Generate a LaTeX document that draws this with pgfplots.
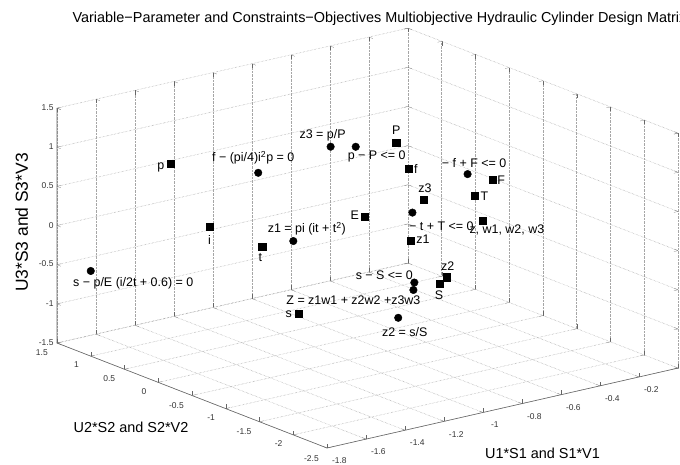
\documentclass[border=0pt]{standalone}
\usepackage{pgfplots}
\pgfplotsset{compat=1.18}
\usepackage{fontspec}
\setmainfont{Liberation Sans}
\usetikzlibrary{calc}
\newcommand{\lbl}{\fontsize{12.5}{14}\selectfont}
\begin{document}
\begin{tikzpicture}
\begin{axis}[
  x={(195bp,44.4bp)}, y={(-67.5bp,26.25bp)}, z={(0bp,78.3bp)},
  xmin=-1.8, xmax=0, ymin=-2.5, ymax=1.5, zmin=-1.5, zmax=1.5,
  xtick={-1.8,-1.6,-1.4,-1.2,-1,-0.8,-0.6,-0.4,-0.2},
  ytick={-2.5,-2,-1.5,-1,-0.5,0,0.5,1,1.5},
  ztick={-1.5,-1,-0.5,0,0.5,1,1.5},
  grid=major,
  grid style={densely dotted, black!35, line width=0.6pt},
  tick label style={font=\fontsize{8.5}{9}\selectfont, text=black!80},
  xticklabel style={xshift=7bp, yshift=-5bp},
  yticklabel style={xshift=-9bp, yshift=-2bp},
  /pgf/number format/assume math mode=true,
  /pgf/number format/fixed,
  axis line style={draw=none},
  tick style={black!60},
  clip=false,
]
\path (axis cs:-1.8,-2.5,-1.5) coordinate (O);
% visible axis lines only (as in the reference)
\draw[black!60, line width=0.6pt] (axis cs:-1.8,1.5,1.5) -- (axis cs:-1.8,1.5,-1.5) -- (axis cs:-1.8,-2.5,-1.5) -- (axis cs:0,-2.5,-1.5);
% variables (squares)
\addplot3[only marks, mark=square*, mark size=3.6pt, black] coordinates {
(-1.470,0.766,0.851) (-1.358,0.518,0.066) (-1.205,0.178,-0.168)
(-1.099,-0.057,-1.006) (-0.908,-0.482,0.274) (-0.817,-0.686,1.238)
(-0.780,-0.767,0.904) (-0.738,-0.861,0.524) (-0.774,-0.780,-0.015)
(-0.537,-1.306,0.805) (-0.590,-1.188,0.592) (-0.567,-1.240,0.280)
(-0.670,-1.010,-0.460) (-0.690,-0.967,-0.541)
};
% constraints/objectives (circles)
\addplot3[only marks, mark=*, mark size=3.8pt, black] coordinates {
(-1.702,1.283,-0.563) (-1.217,0.203,0.778) (-1.007,-0.263,1.148)
(-0.934,-0.424,1.160) (-1.115,-0.022,-0.076) (-0.770,-0.790,0.349)
(-0.610,-1.145,0.869) (-0.764,-0.801,-0.544) (-0.767,-0.796,-0.639)
(-0.811,-0.698,-1.002)
};
% labels of squares
\node[font=\lbl, xshift=-10bp, yshift=-4bp] at (axis cs:-1.470,0.766,0.851) {p};
\node[font=\lbl, xshift=0bp, yshift=-13bp] at (axis cs:-1.358,0.518,0.066) {i};
\node[font=\lbl, xshift=-2bp, yshift=-11bp] at (axis cs:-1.205,0.178,-0.168) {t};
\node[font=\lbl, xshift=-10bp, yshift=0bp] at (axis cs:-1.099,-0.057,-1.006) {s};
\node[font=\lbl, xshift=-10bp, yshift=1bp] at (axis cs:-0.908,-0.482,0.274) {E};
\node[font=\lbl, xshift=0bp, yshift=12bp] at (axis cs:-0.817,-0.686,1.238) {P};
\node[font=\lbl, xshift=7bp, yshift=0bp] at (axis cs:-0.780,-0.767,0.904) {f};
\node[font=\lbl, xshift=1.5bp, yshift=11bp] at (axis cs:-0.738,-0.861,0.524) {z3};
\node[font=\lbl, xshift=12bp, yshift=2bp] at (axis cs:-0.774,-0.780,-0.015) {z1};
\node[font=\lbl, xshift=8.5bp, yshift=0bp] at (axis cs:-0.537,-1.306,0.805) {F};
\node[font=\lbl, xshift=10bp, yshift=0bp] at (axis cs:-0.590,-1.188,0.592) {T};
\node[font=\lbl, xshift=24.5bp, yshift=-9.5bp] at (axis cs:-0.567,-1.240,0.280) {z, w1, w2, w3};
\node[font=\lbl, xshift=1bp, yshift=11.5bp] at (axis cs:-0.670,-1.010,-0.460) {z2};
\node[font=\lbl, xshift=-1bp, yshift=-11.5bp] at (axis cs:-0.690,-0.967,-0.541) {S};
% labels of circles
\node[font=\lbl, xshift=42.5bp, yshift=-12.5bp] at (axis cs:-1.702,1.283,-0.563) {s − p/E (i/2t + 0.6) = 0};
\node[font=\lbl, xshift=-5bp, yshift=15bp] at (axis cs:-1.217,0.203,0.778) {f − (pi/4)i\textsuperscript{2}p = 0};
\node[font=\lbl, xshift=-8bp, yshift=11.5bp] at (axis cs:-1.007,-0.263,1.148) {z3 = p/P};
\node[font=\lbl, xshift=21bp, yshift=-10bp] at (axis cs:-0.934,-0.424,1.160) {p − P <= 0};
\node[font=\lbl, xshift=13.5bp, yshift=12.5bp] at (axis cs:-1.115,-0.022,-0.076) {z1 = pi (it + t\textsuperscript{2})};
\node[font=\lbl, xshift=29bp, yshift=-13.5bp] at (axis cs:-0.770,-0.790,0.349) {− t + T <= 0};
\node[font=\lbl, xshift=6.5bp, yshift=11.5bp] at (axis cs:-0.610,-1.145,0.869) {− f + F <= 0};
\node[font=\lbl, xshift=-30bp, yshift=7.5bp] at (axis cs:-0.764,-0.801,-0.544) {s − S <= 0};
\node[font=\lbl, xshift=-60bp, yshift=-10bp] at (axis cs:-0.767,-0.796,-0.639) {Z = z1w1 + z2w2 +z3w3};
\node[font=\lbl, xshift=6.5bp, yshift=-14bp] at (axis cs:-0.811,-0.698,-1.002) {z2 = s/S};
\end{axis}
% title and axis labels, positioned relative to front corner O (pixel 327,448)
\node[anchor=west, font=\fontsize{14.5}{16}\selectfont] at ([shift={(-258bp,429.5bp)}]O) {Variable−Parameter and Constraints−Objectives Multiobjective Hydraulic Cylinder Design Matrix};
\node[font=\fontsize{14.5}{16}\selectfont] at ([shift={(215.5bp,-5bp)}]O) {U1*S1 and S1*V1};
\node[font=\fontsize{14.5}{16}\selectfont] at ([shift={(-196bp,21bp)}]O) {U2*S2 and S2*V2};
\node[rotate=90, font=\fontsize{17.5}{19}\selectfont] at ([shift={(-305.3bp,225.5bp)}]O) {U3*S3 and S3*V3};
\pgfresetboundingbox
\useasboundingbox ([shift={(-327bp,-17bp)}]O) rectangle ([shift={(353bp,448bp)}]O);
\end{tikzpicture}
\end{document}
